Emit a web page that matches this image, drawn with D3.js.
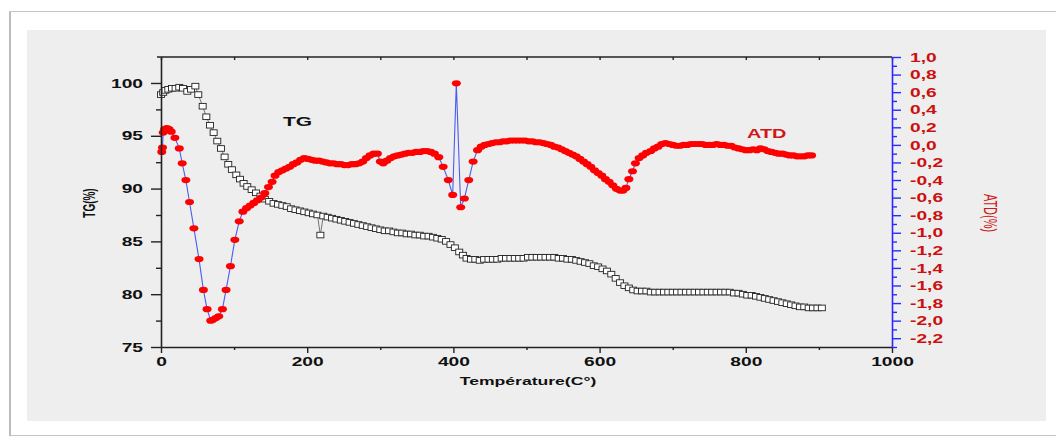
<!DOCTYPE html>
<html><head><meta charset="utf-8">
<script src="https://cdn.jsdelivr.net/npm/d3@7"></script>
<style>
html,body{margin:0;padding:0;background:#fff;}
svg{display:block;}
text{font-family:"Liberation Sans",Arial,sans-serif;}
</style></head>
<body>
<svg id="chart" width="1056" height="437"></svg>
<script>
// ---- data ----
const tgTemp = [0,3,6,10,15,20,25,30,36,41,47,51,57,62,67,72,77,82,87,92,97,103,108,113,118,124,130,136,142,148,154,160,166,172,178,184,190,196,202,208,214,218,222,228,234,240,246,252,258,264,270,276,282,288,294,300,306,312,318,324,330,336,342,348,354,360,366,372,378,384,390,396,402,408,413,418,424,430,436,442,448,454,460,466,472,478,484,490,496,502,508,514,520,526,532,538,544,550,556,562,568,574,580,586,592,598,604,610,616,622,628,634,640,646,652,658,664,670,676,682,688,694,700,706,712,718,724,730,736,742,748,754,760,766,772,778,784,790,796,802,808,814,820,826,832,838,844,850,856,862,868,874,880,886,892,898,904];
const tgValues = [98.9,99.1,99.3,99.4,99.5,99.5,99.6,99.5,99.2,99.4,99.7,98.9,97.8,96.8,96.0,95.3,94.5,93.8,93.0,92.3,91.8,91.3,90.9,90.5,90.2,89.9,89.6,89.3,89.0,88.8,88.6,88.5,88.4,88.3,88.1,88.0,87.9,87.8,87.7,87.6,87.5,85.6,87.4,87.3,87.2,87.1,87.0,86.9,86.8,86.7,86.6,86.5,86.4,86.3,86.2,86.1,86.0,86.0,85.9,85.8,85.8,85.7,85.7,85.6,85.6,85.5,85.5,85.4,85.3,85.2,85.0,84.7,84.4,84.0,83.7,83.4,83.3,83.3,83.2,83.3,83.3,83.3,83.3,83.4,83.4,83.4,83.4,83.4,83.4,83.5,83.5,83.5,83.5,83.5,83.5,83.5,83.4,83.4,83.3,83.3,83.2,83.1,83.0,82.9,82.7,82.6,82.4,82.2,81.9,81.5,81.1,80.8,80.6,80.4,80.3,80.3,80.3,80.2,80.2,80.2,80.2,80.2,80.2,80.2,80.2,80.2,80.2,80.2,80.2,80.2,80.2,80.2,80.2,80.2,80.2,80.2,80.1,80.1,80.0,79.9,79.9,79.8,79.7,79.6,79.5,79.4,79.3,79.2,79.1,79.0,78.9,78.8,78.8,78.7,78.7,78.7,78.7];

const atdTemp = [1,2,3,5,8,11,14,19,25,29,34,39,45,52,58,63,68,71,75,79,84,89,95,101,107,112,117,122,127,132,137,142,147,152,156,161,166,171,176,181,186,191,196,201,206,211,216,221,226,231,236,241,246,251,256,261,266,271,276,281,286,291,296,300,304,309,314,319,324,329,334,339,344,349,354,359,364,369,374,380,386,393,399,404,410,415,421,427,433,438,443,448,453,458,463,468,473,478,483,488,493,498,503,508,513,518,523,528,533,538,543,548,553,558,563,568,573,578,583,588,593,598,603,608,613,618,623,628,632,636,640,645,649,654,659,664,670,675,680,685,690,695,700,705,710,715,720,725,730,735,740,745,750,755,760,765,770,775,780,785,790,795,800,805,810,815,820,825,830,835,840,845,850,855,860,865,870,875,880,885,890];
const atdValues = [-0.08,-0.03,0.14,0.18,0.19,0.18,0.15,0.08,-0.04,-0.21,-0.40,-0.65,-0.95,-1.30,-1.65,-1.87,-2.00,-1.99,-1.97,-1.95,-1.87,-1.65,-1.38,-1.08,-0.87,-0.76,-0.72,-0.69,-0.66,-0.63,-0.60,-0.55,-0.48,-0.42,-0.35,-0.31,-0.29,-0.27,-0.25,-0.22,-0.20,-0.17,-0.15,-0.16,-0.17,-0.18,-0.18,-0.19,-0.20,-0.21,-0.21,-0.22,-0.22,-0.23,-0.23,-0.22,-0.22,-0.21,-0.19,-0.15,-0.12,-0.10,-0.10,-0.19,-0.21,-0.18,-0.15,-0.13,-0.12,-0.11,-0.10,-0.09,-0.09,-0.08,-0.08,-0.07,-0.07,-0.08,-0.10,-0.14,-0.25,-0.40,-0.57,0.70,-0.71,-0.61,-0.40,-0.19,-0.06,-0.02,0.00,0.01,0.02,0.03,0.03,0.04,0.04,0.05,0.05,0.05,0.05,0.05,0.04,0.04,0.03,0.03,0.02,0.01,0.00,-0.02,-0.03,-0.05,-0.07,-0.09,-0.11,-0.13,-0.16,-0.19,-0.22,-0.25,-0.29,-0.32,-0.35,-0.39,-0.42,-0.46,-0.50,-0.52,-0.52,-0.49,-0.39,-0.30,-0.21,-0.15,-0.12,-0.09,-0.07,-0.04,-0.02,0.01,0.02,0.01,0.00,-0.01,-0.01,0.00,0.00,0.01,0.01,0.01,0.01,0.00,0.00,0.00,0.01,0.00,0.00,-0.01,-0.01,-0.03,-0.04,-0.05,-0.06,-0.06,-0.05,-0.06,-0.04,-0.05,-0.07,-0.08,-0.09,-0.10,-0.10,-0.11,-0.12,-0.12,-0.13,-0.13,-0.13,-0.12,-0.12];

const tempTicks = [0,200,400,600,800,1000];
const tempMinor = [100,300,500,700,900];
const tempTop = [0,100,200,300,400,500,600,700,800,900,1000];
const tgTicks = [75,80,85,90,95,100];
const tgMinor = [77.5,82.5,87.5,92.5,97.5];
const atdTicks = [-2.2,-2.0,-1.8,-1.6,-1.4,-1.2,-1.0,-0.8,-0.6,-0.4,-0.2,0.0,0.2,0.4,0.6,0.8,1.0];
const atdMinor = [-2.3,-2.1,-1.9,-1.7,-1.5,-1.3,-1.1,-0.9,-0.7,-0.5,-0.3,-0.1,0.1,0.3,0.5,0.7,0.9];

// ---- layout ----
const svg = d3.select("#chart");
const SX = 1.6;

// frame
svg.append("rect").attr("x",9.5).attr("y",11.5).attr("width",1060).attr("height",424)
  .attr("fill","#fff").attr("stroke","#c4c4c4").attr("stroke-width",1);
svg.append("line").attr("x1",10).attr("x2",10).attr("y1",12).attr("y2",436).attr("stroke","#bbb").attr("stroke-width",2);
svg.append("rect").attr("x",27).attr("y",30).attr("width",1019).attr("height",391).attr("fill","#eeeeee");

const x = d3.scaleLinear().domain([0,1000]).range([161,892]);
const yTG = d3.scaleLinear().domain([75,102.46]).range([347,57]);
const yATD = d3.scaleLinear().domain([-2.3,1.0]).range([347,57]);

// TG series
const tgData = tgTemp.map((t,i)=>({t, v:tgValues[i]}));
svg.append("path").datum(tgData)
  .attr("d", d3.line().x(d=>x(d.t)).y(d=>yTG(d.v)))
  .attr("fill","none").attr("stroke","#555").attr("stroke-width",0.8);
svg.append("g").selectAll("rect").data(tgData).join("rect")
  .attr("x",d=>x(d.t)-3.5).attr("y",d=>yTG(d.v)-2.8)
  .attr("width",7).attr("height",5.6)
  .attr("fill","#fff").attr("stroke","#222").attr("stroke-width",0.9);

// ATD series
const atdData = atdTemp.map((t,i)=>({t, v:atdValues[i]}));
svg.append("path").datum(atdData)
  .attr("d", d3.line().x(d=>x(d.t)).y(d=>yATD(d.v)))
  .attr("fill","none").attr("stroke","#4a5cf0").attr("stroke-width",1.1);
svg.append("g").selectAll("ellipse").data(atdData).join("ellipse")
  .attr("cx",d=>x(d.t)).attr("cy",d=>yATD(d.v))
  .attr("rx",4.5).attr("ry",3.1).attr("fill","#ff0000");

// axes
function styleAxis(g, color){
  g.selectAll("path.domain").attr("stroke",color).attr("stroke-width",1.6);
  g.selectAll(".tick line").attr("stroke",color).attr("stroke-width",1.4);
}
// top axis (inward small ticks)
const gTop = svg.append("g").attr("transform","translate(0,57)")
  .call(d3.axisBottom(x).tickValues(tempTop).tickSize(3).tickSizeOuter(0).tickFormat(""));
styleAxis(gTop,"#222");
gTop.select("path.domain").attr("d","M157,0H892");

// bottom axis
const gBot = svg.append("g").attr("transform","translate(0,347)")
  .call(d3.axisBottom(x).tickValues(tempTicks).tickSize(6).tickSizeOuter(0).tickFormat(d3.format("d")));
styleAxis(gBot,"#222");
gBot.selectAll(".tick text").attr("y",0).attr("dy",0)
  .attr("transform",`translate(0,19) scale(${SX},1)`)
  .attr("font-size","12px").attr("font-weight","bold").attr("fill","#111");
const gBotMinor = svg.append("g").attr("transform","translate(0,347)")
  .call(d3.axisBottom(x).tickValues(tempMinor).tickSize(3).tickFormat(""));
styleAxis(gBotMinor,"#222");
gBotMinor.select("path.domain").remove();

// left axis
const gLeft = svg.append("g").attr("transform","translate(161,0)")
  .call(d3.axisLeft(yTG).tickValues(tgTicks).tickSize(10).tickSizeOuter(0).tickFormat(d3.format("d")));
styleAxis(gLeft,"#222");
gLeft.selectAll(".tick text").attr("x",0).attr("dy","0.35em")
  .attr("transform",`translate(-18,0) scale(${SX},1)`)
  .attr("font-size","12px").attr("font-weight","bold").attr("fill","#111");
const gLeftMinor = svg.append("g").attr("transform","translate(161,0)")
  .call(d3.axisLeft(yTG).tickValues(tgMinor).tickSize(5).tickFormat(""));
styleAxis(gLeftMinor,"#222");
gLeftMinor.select("path.domain").remove();

// right axis
const fmt = d => d3.format(".1f")(d).replace(".",",").replace("\u2212","-");
const gRight = svg.append("g").attr("transform","translate(892,0)")
  .call(d3.axisRight(yATD).tickValues(atdTicks).tickSize(9).tickSizeOuter(0).tickFormat(fmt));
styleAxis(gRight,"#2a2aff");
gRight.selectAll(".tick text").attr("x",0).attr("dy","0.35em")
  .attr("transform",`translate(18,0) scale(${SX},1)`)
  .attr("text-anchor","start")
  .attr("font-size","12px").attr("font-weight","bold").attr("fill","#cc1010");
const gRightMinor = svg.append("g").attr("transform","translate(892,0)")
  .call(d3.axisRight(yATD).tickValues(atdMinor).tickSize(5).tickFormat(""));
styleAxis(gRightMinor,"#2a2aff");
gRightMinor.select("path.domain").remove();

// texts
function stretched(txt, tx, ty, opts){
  const t = svg.append("text").text(txt)
    .attr("transform", `translate(${tx},${ty}) scale(${opts.sx||SX},1)` + (opts.rot?` rotate(${opts.rot})`:""))
    .attr("text-anchor", opts.anchor||"middle")
    .attr("font-size", opts.size||"11px")
    .attr("font-weight", opts.weight||"bold")
    .attr("fill", opts.fill||"#111");
  return t;
}
stretched("Température(C°)", 528, 385, {size:"11px"});
stretched("TG(%)", 95, 203, {size:"10px", rot:-90});
stretched("ATD(%)", 984, 213, {size:"11px", rot:90, weight:"normal", fill:"#d01818"});
stretched("TG", 283, 126, {size:"12px", anchor:"start", sx:1.75});
stretched("ATD", 747, 138, {size:"12px", anchor:"start", sx:1.66, fill:"#d01818"});
</script>
</body></html>
